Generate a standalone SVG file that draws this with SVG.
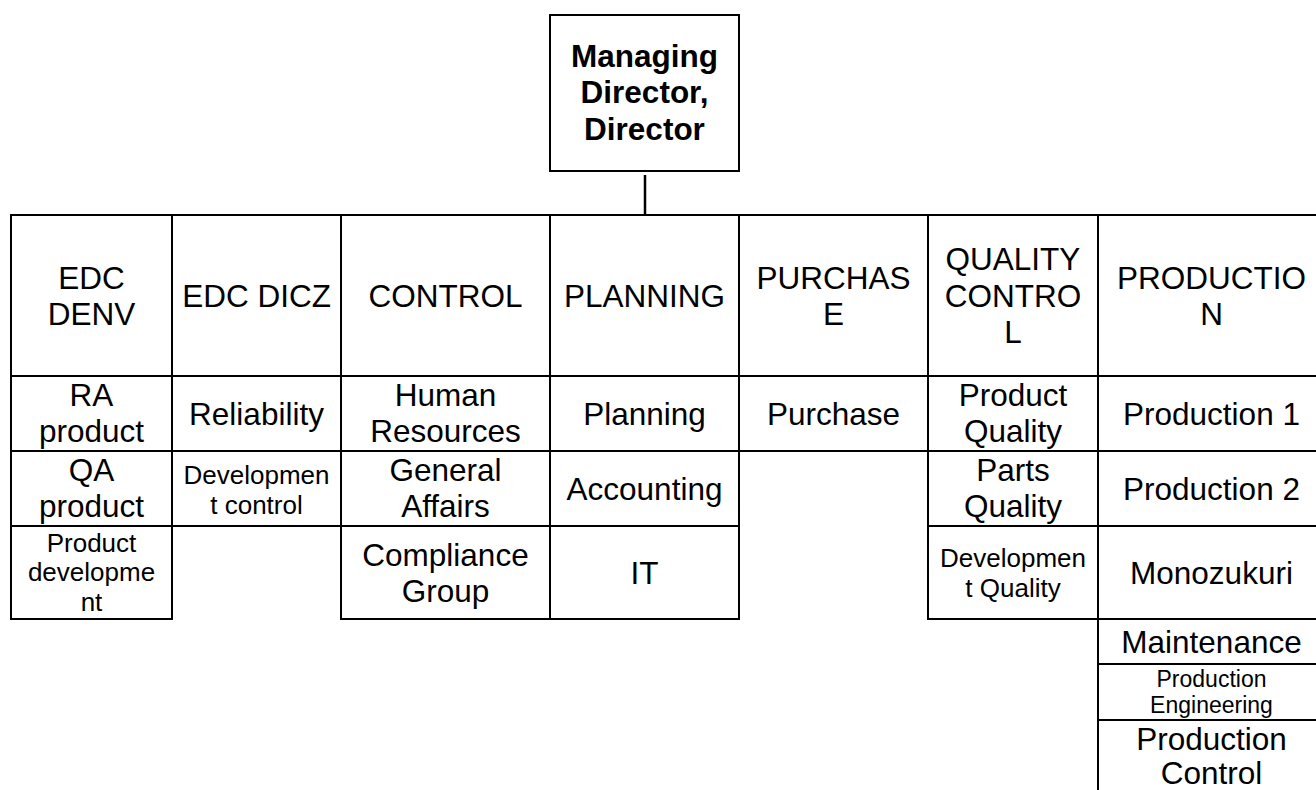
<svg xmlns="http://www.w3.org/2000/svg" width="1316" height="790" viewBox="0 0 1316 790">
  <style>
    .box { fill: #ffffff; stroke: #000000; stroke-width: 2; }
    .link { stroke: #000000; stroke-width: 2.5; fill: none; }
    text { font-family: "Liberation Sans", Arial, sans-serif; fill: #000000; text-anchor: middle; }
    .lg { font-size: 31.5px; }
    .md { font-size: 26px; }
    .sm { font-size: 23px; }
    .bold { font-weight: bold; }
  </style>
  <rect x="0" y="0" width="1316" height="790" fill="#ffffff"/>

  <!-- reporting line from the director to the department row -->
  <g id="connectors">
    <line class="link" x1="645" y1="175" x2="645" y2="215"/>
  </g>

  <g id="director">
    <rect class="box" x="550" y="15" width="189" height="156"/>
    <text class="lg bold" x="644.5" y="67">Managing</text>
    <text class="lg bold" x="644.5" y="103.3">Director,</text>
    <text class="lg bold" x="644.5" y="139.6">Director</text>
  </g>

  <!-- department headers -->
  <g id="dept-edc-denv">
    <rect class="box" x="11" y="215" width="161" height="161"/>
    <text class="lg" x="91.5" y="288.5">EDC</text>
    <text class="lg" x="91.5" y="324.8">DENV</text>
  </g>
  <g id="dept-edc-dicz">
    <rect class="box" x="172" y="215" width="169" height="161"/>
    <text class="lg" x="256.5" y="306.7">EDC DICZ</text>
  </g>
  <g id="dept-control">
    <rect class="box" x="341" y="215" width="209" height="161"/>
    <text class="lg" x="445.5" y="306.7">CONTROL</text>
  </g>
  <g id="dept-planning">
    <rect class="box" x="550" y="215" width="189" height="161"/>
    <text class="lg" x="644.5" y="306.7">PLANNING</text>
  </g>
  <g id="dept-purchase">
    <rect class="box" x="739" y="215" width="189" height="161"/>
    <text class="lg" x="833.5" y="288.5">PURCHAS</text>
    <text class="lg" x="833.5" y="324.8">E</text>
  </g>
  <g id="dept-quality">
    <rect class="box" x="928" y="215" width="170" height="161"/>
    <text class="lg" x="1013" y="270.4">QUALITY</text>
    <text class="lg" x="1013" y="306.7">CONTRO</text>
    <text class="lg" x="1013" y="343">L</text>
  </g>
  <g id="dept-production">
    <rect class="box" x="1098" y="215" width="227" height="161"/>
    <text class="lg" x="1211.5" y="288.5">PRODUCTIO</text>
    <text class="lg" x="1211.5" y="324.8">N</text>
  </g>

  <!-- EDC DENV sections -->
  <g id="ra-product">
    <rect class="box" x="11" y="376" width="161" height="75"/>
    <text class="lg" x="91.5" y="406">RA</text>
    <text class="lg" x="91.5" y="442.3">product</text>
  </g>
  <g id="qa-product">
    <rect class="box" x="11" y="451" width="161" height="75"/>
    <text class="lg" x="91.5" y="481">QA</text>
    <text class="lg" x="91.5" y="517.3">product</text>
  </g>
  <g id="product-development">
    <rect class="box" x="11" y="526" width="161" height="93"/>
    <text class="md" x="91.5" y="551.5">Product</text>
    <text class="md" x="91.5" y="581">developme</text>
    <text class="md" x="91.5" y="610.5">nt</text>
  </g>

  <!-- EDC DICZ sections -->
  <g id="reliability">
    <rect class="box" x="172" y="376" width="169" height="75"/>
    <text class="lg" x="256.5" y="424.5">Reliability</text>
  </g>
  <g id="development-control">
    <rect class="box" x="172" y="451" width="169" height="75"/>
    <text class="md" x="256.5" y="484">Developmen</text>
    <text class="md" x="256.5" y="513.5">t control</text>
  </g>

  <!-- CONTROL sections -->
  <g id="human-resources">
    <rect class="box" x="341" y="376" width="209" height="75"/>
    <text class="lg" x="445.5" y="406">Human</text>
    <text class="lg" x="445.5" y="442.3">Resources</text>
  </g>
  <g id="general-affairs">
    <rect class="box" x="341" y="451" width="209" height="75"/>
    <text class="lg" x="445.5" y="481">General</text>
    <text class="lg" x="445.5" y="517.3">Affairs</text>
  </g>
  <g id="compliance-group">
    <rect class="box" x="341" y="526" width="209" height="93"/>
    <text class="lg" x="445.5" y="565.5">Compliance</text>
    <text class="lg" x="445.5" y="601.8">Group</text>
  </g>

  <!-- PLANNING sections -->
  <g id="planning">
    <rect class="box" x="550" y="376" width="189" height="75"/>
    <text class="lg" x="644.5" y="424.5">Planning</text>
  </g>
  <g id="accounting">
    <rect class="box" x="550" y="451" width="189" height="75"/>
    <text class="lg" x="644.5" y="499.5">Accounting</text>
  </g>
  <g id="it">
    <rect class="box" x="550" y="526" width="189" height="93"/>
    <text class="lg" x="644.5" y="583.7">IT</text>
  </g>

  <!-- PURCHASE section -->
  <g id="purchase">
    <rect class="box" x="739" y="376" width="189" height="75"/>
    <text class="lg" x="833.5" y="424.5">Purchase</text>
  </g>

  <!-- QUALITY CONTROL sections -->
  <g id="product-quality">
    <rect class="box" x="928" y="376" width="170" height="75"/>
    <text class="lg" x="1013" y="406">Product</text>
    <text class="lg" x="1013" y="442.3">Quality</text>
  </g>
  <g id="parts-quality">
    <rect class="box" x="928" y="451" width="170" height="75"/>
    <text class="lg" x="1013" y="481">Parts</text>
    <text class="lg" x="1013" y="517.3">Quality</text>
  </g>
  <g id="development-quality">
    <rect class="box" x="928" y="526" width="170" height="93"/>
    <text class="md" x="1013" y="566.7">Developmen</text>
    <text class="md" x="1013" y="596.7">t Quality</text>
  </g>

  <!-- PRODUCTION sections -->
  <g id="production-1">
    <rect class="box" x="1098" y="376" width="227" height="75"/>
    <text class="lg" x="1211.5" y="424.5">Production 1</text>
  </g>
  <g id="production-2">
    <rect class="box" x="1098" y="451" width="227" height="75"/>
    <text class="lg" x="1211.5" y="499.5">Production 2</text>
  </g>
  <g id="monozukuri">
    <rect class="box" x="1098" y="526" width="227" height="93"/>
    <text class="lg" x="1211.5" y="583.7">Monozukuri</text>
  </g>
  <g id="maintenance">
    <rect class="box" x="1098" y="619" width="227" height="45"/>
    <text class="lg" x="1211.5" y="652.5">Maintenance</text>
  </g>
  <g id="production-engineering">
    <rect class="box" x="1098" y="664" width="227" height="56"/>
    <text class="sm" x="1211.5" y="687.3">Production</text>
    <text class="sm" x="1211.5" y="712.8">Engineering</text>
  </g>
  <g id="production-control">
    <rect class="box" x="1098" y="720" width="227" height="90"/>
    <text class="lg" x="1211.5" y="749.5">Production</text>
    <text class="lg" x="1211.5" y="783.5">Control</text>
  </g>
</svg>
